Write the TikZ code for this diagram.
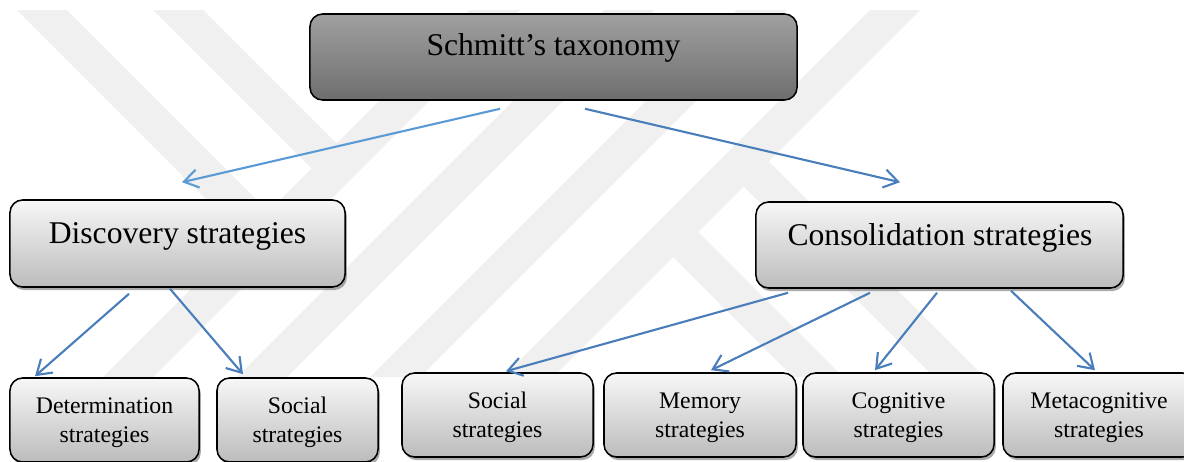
\documentclass[tikz,border=0pt]{standalone}
\usepackage{fontspec}
\setmainfont{Liberation Serif}
\usetikzlibrary{arrows.meta,shadows}
\definecolor{wm}{RGB}{240,240,240}
\definecolor{arrblue}{RGB}{74,126,187}
\definecolor{arrlight}{RGB}{91,155,213}
\definecolor{boxtop}{RGB}{247,247,247}
\definecolor{boxbot}{RGB}{188,188,188}
\definecolor{darktop}{RGB}{160,160,160}
\definecolor{darkbot}{RGB}{110,110,110}
\begin{document}
\begin{tikzpicture}[x=0.025cm,y=-0.025cm,
  basebox/.style={draw=black, line width=1.1pt, rounded corners=9pt, inner sep=0pt},
  lightbox/.style={basebox, top color=boxtop, bottom color=boxbot,
     drop shadow={shadow xshift=1.3pt, shadow yshift=-2.2pt, fill=black!60, opacity=0.55}},
  darkbox/.style={basebox, top color=darktop, bottom color=darkbot},
  bigtxt/.style={anchor=base, inner sep=0pt, font=\fontsize{22.5}{27}\selectfont},
  smalltxt/.style={anchor=base, inner sep=0pt, align=center, font=\fontsize{16.9}{20.6}\selectfont},
  arr/.style={draw=arrblue, line width=1.5pt, -{Straight Barb[length=10pt,width=13pt]}},
  wmband/.style={fill=wm, draw=none}]
\useasboundingbox (0,0) rectangle (1184,461);
\clip (0,0) rectangle (1184,461);
\fill[white] (0,0) rectangle (1184,461);

% watermark
\begin{scope}
  \clip (0,10) rectangle (1184,377);
  \fill[wmband] (17,10) -- (67,10) -- (281,224) -- (256,249) -- cycle;
  \fill[wmband] (153,10) -- (203,10) -- (349,156) -- (324,181) -- cycle;
  \fill[wmband] (470,10) -- (520,10) -- (153,377) -- (103,377) -- cycle;
  \fill[wmband] (604,10) -- (654,10) -- (287,377) -- (237,377) -- cycle;
  \fill[wmband] (737,10) -- (787,10) -- (420,377) -- (370,377) -- cycle;
  \fill[wmband] (870,10) -- (920,10) -- (553,377) -- (503,377) -- cycle;
  \fill[wmband] (660.5,244.5) -- (685.5,219.5) -- (843,377) -- (793,377) -- cycle;
  \fill[wmband] (731,174) -- (756,149) -- (984,377) -- (934,377) -- cycle;
\end{scope}

% boxes
\node[darkbox, minimum width=12.175cm, minimum height=2.15cm] (tax) at (553.5,57) {};
\node[bigtxt] (taxt) at (553.5,55) {Schmitt’s taxonomy};

\node[lightbox, minimum width=8.375cm, minimum height=2.175cm] (dis) at (177.5,243.5) {};
\node[bigtxt] (dist) at (177.5,243) {Discovery strategies};

\node[lightbox, minimum width=9.175cm, minimum height=2.15cm] (con) at (939.5,245) {};
\node[bigtxt] (cont) at (940,245) {Consolidation strategies};

\node[lightbox, minimum width=4.725cm, minimum height=2.1cm] (det) at (104.5,420) {};
\node[smalltxt] (dett) at (104.5,442) {Determination\\strategies};

\node[lightbox, minimum width=4.025cm, minimum height=2.1cm] (soca) at (297.5,420) {};
\node[smalltxt] (socat) at (297.5,442) {Social\\strategies};

\node[lightbox, minimum width=4.775cm, minimum height=2.1cm] (socb) at (497.5,415) {};
\node[smalltxt] (socbt) at (497.5,437) {Social\\strategies};

\node[lightbox, minimum width=4.8cm, minimum height=2.1cm] (mem) at (700,415) {};
\node[smalltxt] (memt) at (700,437) {Memory\\strategies};

\node[lightbox, minimum width=4.775cm, minimum height=2.1cm] (cog) at (898.5,415) {};
\node[smalltxt] (cogt) at (898.5,437) {Cognitive\\strategies};

\node[lightbox, minimum width=4.8cm, minimum height=2.1cm] (meta) at (1099,415) {};
\node[smalltxt] (metat) at (1099,437) {Metacognitive\\strategies};

% connectors
\draw[arr, draw=arrlight] ([shift={(-53.5,8)}]tax.south) -- ([shift={(4.5,-17)}]dis.north);
\draw[arr] ([shift={(31.5,8)}]tax.south) -- ([shift={(-39.5,-19)}]con.north);
\draw[arr] ([shift={(-48.5,6)}]dis.south) -- ([shift={(-69.5,-1)}]det.north);
\draw[arr] ([shift={(-7.5,1)}]dis.south) -- ([shift={(-54.5,-3)}]soca.north);
\draw[arr] ([shift={(-151.5,4)}]con.south) -- ([shift={(8.5,-1)}]socb.north);
\draw[arr] ([shift={(-69.5,4)}]con.south) -- ([shift={(11,-2)}]mem.north);
\draw[arr] ([shift={(-2.5,4)}]con.south) -- ([shift={(-23.5,-2)}]cog.north);
\draw[arr] ([shift={(71.5,2)}]con.south) -- ([shift={(-4,-2)}]meta.north);
\end{tikzpicture}
\end{document}
